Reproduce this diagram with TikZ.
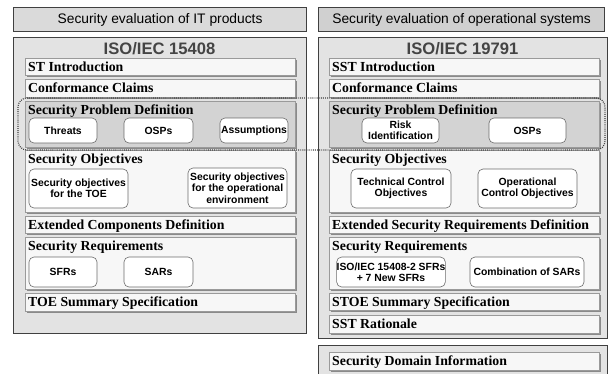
\documentclass[tikz,border=0pt]{standalone}
\usepackage{fontspec}
\setmainfont{Liberation Serif}
\setsansfont{Liberation Sans}
\usetikzlibrary{shadows}
\definecolor{edge}{HTML}{404040}
\definecolor{hdrL}{HTML}{DADADA}
\definecolor{hdrR}{HTML}{D0D0D0}
\definecolor{mainf}{HTML}{E3E3E3}
\definecolor{barf}{HTML}{F7F7F7}
\definecolor{barb}{HTML}{9A9A9A}
\definecolor{spdf}{HTML}{D3D3D3}
\definecolor{shad}{HTML}{8A8A8A}
\definecolor{isoc}{HTML}{444444}
\newcommand{\mkbox}[6]{\node[#1, minimum width={(#5-#3)*1pt}, minimum height={(#6-#4)*1pt}] (#2) at (#3,-#4) {};}
\newcommand{\mksub}[6]{\node[subbox, minimum width={(#4-#2)*1pt}, minimum height={(#5-#3)*1pt}] (#1) at ({(#2+#4)/2},{-(#3+#5)/2}) {#6};}
\newcommand{\mkttl}[2]{\node[ttl] (#1t) at ([xshift=3pt,yshift=-13.7pt]#1.north west) {#2};}
\tikzset{
 outerbox/.style={draw=edge, line width=1.1pt, inner sep=0, anchor=north west},
 barbox/.style={draw=barb, fill=barf, line width=0.6pt, inner sep=0, anchor=north west,
   drop shadow={shadow xshift=1.2pt,shadow yshift=-1.2pt,fill=shad,opacity=1}},
 subbox/.style={draw=barb!70!black, fill=white, rounded corners=5pt, line width=0.6pt, inner sep=0,
   font=\sffamily\bfseries\fontsize{10.4}{11.3}\selectfont, align=center},
 ttl/.style={font=\rmfamily\bfseries\fontsize{13.8}{15}\selectfont, inner sep=0, anchor=base west},
 hdr/.style={font=\sffamily\fontsize{13.8}{15}\selectfont, text=black},
 iso/.style={font=\sffamily\bfseries\fontsize{16.6}{18}\selectfont, text=isoc},
 dotline/.style={draw=edge, line width=1.2pt, dash pattern=on 0.9pt off 1.2pt, rounded corners=9pt},
}
\begin{document}
\begin{tikzpicture}[x=1pt,y=1pt]
\clip (0,0) rectangle (609,-373);
\fill[white] (0,0) rectangle (609,-373);
% headers
\mkbox{outerbox, fill=hdrL}{hdrl}{13}{7}{306}{31}
\node[hdr] (hdrlt) at (hdrl.center) {Security evaluation of IT products};
\mkbox{outerbox, fill=hdrR}{hdrr}{318}{7}{604}{31}
\node[hdr] (hdrrt) at (hdrr.center) {Security evaluation of operational systems};
% main boxes
\mkbox{outerbox, fill=mainf}{mainl}{13}{37}{306}{333}
\mkbox{outerbox, fill=mainf}{mainr}{318}{37}{607}{338}
\mkbox{outerbox, fill=mainf}{mainb}{318}{345}{607}{390}
\node[iso] (isol) at (159.5,-48.5) {ISO/IEC 15408};
\node[iso] (isor) at (462.5,-48.5) {ISO/IEC 19791};
% left column
\mkbox{barbox}{stintro}{25}{58}{295}{75}\mkttl{stintro}{ST Introduction}
\mkbox{barbox}{ccl}{25}{79}{295}{97}\mkttl{ccl}{Conformance Claims}
\mkbox{barbox, fill=spdf}{spdl}{25}{101}{295}{147}\mkttl{spdl}{Security Problem Definition}
\mkbox{barbox}{sol}{25}{150}{295}{212}\mkttl{sol}{Security Objectives}
\mkbox{barbox}{ecd}{25}{216}{295}{233}\mkttl{ecd}{Extended Components Definition}
\mkbox{barbox}{srl}{25}{237}{295}{289}\mkttl{srl}{Security Requirements}
\mkbox{barbox}{tss}{25}{293}{295}{311}\mkttl{tss}{TOE Summary Specification}
\mksub{threats}{29}{118}{97}{143}{Threats}
\mksub{ospsl}{124}{118}{193}{143}{OSPs}
\mksub{assum}{220}{118}{288}{143}{Assumptions}
\mksub{sotoe}{29}{169}{128}{208}{Security objectives\\for the TOE}
\mksub{soenv}{188}{168}{287}{208}{Security objectives\\for the operational\\environment}
\mksub{sfrs}{29}{257}{97}{287}{SFRs}
\mksub{sars}{124}{257}{193}{287}{SARs}
% right column
\mkbox{barbox}{sstintro}{329}{58}{599}{75}\mkttl{sstintro}{SST Introduction}
\mkbox{barbox}{ccr}{329}{79}{599}{97}\mkttl{ccr}{Conformance Claims}
\mkbox{barbox, fill=spdf}{spdr}{329}{101}{599}{147}\mkttl{spdr}{Security Problem Definition}
\mkbox{barbox}{sor}{329}{150}{599}{212}\mkttl{sor}{Security Objectives}
\mkbox{barbox}{esrd}{329}{216}{599}{233}\mkttl{esrd}{Extended Security Requirements Definition}
\mkbox{barbox}{srr}{329}{237}{599}{289}\mkttl{srr}{Security Requirements}
\mkbox{barbox}{stoe}{329}{293}{599}{310}\mkttl{stoe}{STOE Summary Specification}
\mkbox{barbox}{sstr}{329}{315}{599}{333}\mkttl{sstr}{SST Rationale}
\mkbox{barbox}{sdi}{329}{352}{599}{370}\mkttl{sdi}{Security Domain Information}
\mksub{risk}{362}{118}{439}{143}{Risk\\Identification}
\mksub{ospsr}{489}{118}{566}{143}{OSPs}
\mksub{tco}{351}{169}{451}{208}{Technical Control\\Objectives}
\mksub{oco}{478}{169}{577}{208}{Operational\\Control Objectives}
\mksub{sfrs2}{343}{257}{439}{287}{ISO/IEC 15408-2 SFRs\\+ 7 New SFRs}
\mksub{csars}{470}{257}{584}{287}{Combination of SARs}
% dotted grouping
\coordinate (dtl) at (18,-98);
\coordinate (dbr) at (605,-150);
\draw[dotline] (dtl) rectangle (dbr);
\end{tikzpicture}
\end{document}
